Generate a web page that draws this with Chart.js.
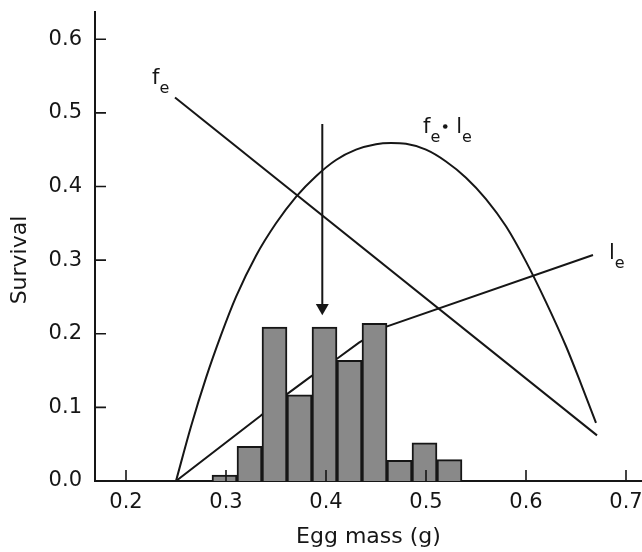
<!DOCTYPE html>
<html>
<head>
<meta charset="utf-8">
<title>Survival vs egg mass</title>
<script src="https://cdn.jsdelivr.net/npm/chart.js@4.4.1/dist/chart.umd.min.js"></script>
<style>
  html, body { margin: 0; padding: 0; background: #fff; }
  #chart { display: block; }
</style>
</head>
<body>
<canvas id="chart" width="642" height="552"></canvas>
<script>
// histogram of egg masses (bin centres, bins 0.025 g wide)
const binCenters = [0.2985, 0.3235, 0.3485, 0.3735, 0.3985, 0.4235, 0.4485, 0.4735, 0.4985, 0.5235];
const binHeights = [0.008, 0.047, 0.209, 0.117, 0.209, 0.164, 0.214, 0.028, 0.052, 0.029];

// f_e (straight line)
const feX = [0.249, 0.671];
const feY = [0.521, 0.062];

// l_e (bends behind the histogram)
const leX = [0.25, 0.334, 0.361, 0.384, 0.411, 0.433, 0.459, 0.667];
const leY = [0, 0.088, 0.118, 0.141, 0.166, 0.188, 0.209, 0.307];

// f_e . l_e curve
const prodX = [0.25, 0.265, 0.28, 0.295, 0.31, 0.33, 0.35, 0.37, 0.39, 0.41, 0.43, 0.45, 0.465,
               0.48, 0.50, 0.52, 0.54, 0.56, 0.58, 0.60, 0.62, 0.64, 0.655, 0.67];
const prodY = [0, 0.074, 0.140, 0.198, 0.250, 0.306, 0.350, 0.386, 0.414, 0.436, 0.450, 0.4575, 0.459,
               0.458, 0.450, 0.434, 0.412, 0.383, 0.346, 0.298, 0.243, 0.183, 0.132, 0.079];

// arrow marking the optimum
const arrowX = [0.3963, 0.3963];
const arrowY = [0.485, 0.2354];

const xTicks = [0.2, 0.3, 0.4, 0.5, 0.6, 0.7];
const yTicks = [0, 0.1, 0.2, 0.3, 0.4, 0.5, 0.6];

const ink = '#161616';
const FONT = '"DejaVu Sans", sans-serif';

const toPoints = (xs, ys) => xs.map((x, i) => ({ x, y: ys[i] }));

// draws "f", "e" etc. with subscripts, baseline at py
function drawLabel(ctx, px, py, parts) {
    let cx = px;
    parts.forEach(p => {
        if (p === '•') {
            ctx.beginPath();
            ctx.arc(cx + 5, py - 7, 2.3, 0, Math.PI * 2);
            ctx.fill();
            cx += 16;
            return;
        }
        const sub = p.startsWith('_');
        const t = sub ? p.slice(1) : p;
        ctx.font = (sub ? '16px ' : '21px ') + FONT;
        ctx.fillText(t, cx, sub ? py + 9 : py);
        cx += ctx.measureText(t).width;
    });
}

const decorations = {
    id: 'decorations',
    afterDatasetsDraw(chart) {
        const { ctx, scales: { x, y } } = chart;
        ctx.save();
        // inward tick marks
        ctx.strokeStyle = ink;
        ctx.lineWidth = 1.6;
        ctx.beginPath();
        yTicks.forEach(v => {
            const py = y.getPixelForValue(v);
            ctx.moveTo(x.left, py);
            ctx.lineTo(x.left + 11, py);
        });
        xTicks.forEach(v => {
            const px = x.getPixelForValue(v);
            ctx.moveTo(px, y.bottom);
            ctx.lineTo(px, y.bottom - 11);
        });
        ctx.stroke();

        // curve labels
        ctx.fillStyle = ink;
        ctx.textAlign = 'left';
        ctx.textBaseline = 'alphabetic';
        drawLabel(ctx, x.getPixelForValue(0.226), y.getPixelForValue(0.539), ['f', '_e']);
        drawLabel(ctx, x.getPixelForValue(0.497), y.getPixelForValue(0.472), ['f', '_e', '•', 'l', '_e']);
        drawLabel(ctx, x.getPixelForValue(0.683), y.getPixelForValue(0.301), ['l', '_e']);

        // y axis title
        ctx.font = '22px ' + FONT;
        ctx.textAlign = 'center';
        ctx.textBaseline = 'middle';
        ctx.translate(20, 260);
        ctx.rotate(-Math.PI / 2);
        ctx.fillText('Survival', 0, 0);
        ctx.restore();
    },
};

const lineStyle = {
    type: 'line',
    borderColor: ink,
    borderWidth: 2,
    pointRadius: 0,
    fill: false,
    order: 1,
};

new Chart(document.getElementById('chart'), {
    type: 'bar',
    data: {
        datasets: [
            {
                label: 'Egg mass frequency',
                data: toPoints(binCenters, binHeights),
                backgroundColor: '#898989',
                borderColor: ink,
                borderWidth: 2,
                barPercentage: 1,
                categoryPercentage: 1,
                grouped: false,
                order: 0,
            },
            { ...lineStyle, label: 'fe', data: toPoints(feX, feY) },
            { ...lineStyle, label: 'le', data: toPoints(leX, leY) },
            {
                ...lineStyle,
                label: 'fe·le',
                data: toPoints(prodX, prodY),
                cubicInterpolationMode: 'monotone',
            },
            {
                ...lineStyle,
                label: 'optimum',
                data: toPoints(arrowX, arrowY),
                pointRadius: [0, 7.5],
                pointStyle: 'triangle',
                rotation: 180,
                pointBackgroundColor: ink,
                pointBorderWidth: 0,
                borderWidth: 2,
            },
        ],
    },
    options: {
        responsive: false,
        animation: false,
        layout: { autoPadding: false, padding: { top: 12, right: 0, left: 0, bottom: 0 } },
        plugins: {
            legend: { display: false },
            tooltip: { enabled: false },
        },
        scales: {
            x: {
                type: 'linear',
                offset: false,
                min: 0.169,
                max: 0.716,
                afterBuildTicks: s => { s.ticks = xTicks.map(v => ({ value: v })); },
                afterFit: s => { s.height = 71; s.paddingLeft = 0; s.paddingRight = 0; },
                grid: { display: false, drawTicks: false, offset: false },
                border: { color: ink, width: 2 },
                ticks: {
                    color: ink,
                    padding: 9,
                    maxRotation: 0,
                    font: { family: FONT, size: 21 },
                    callback: v => v.toFixed(1),
                },
                title: {
                    display: true,
                    text: 'Egg mass (g)',
                    color: ink,
                    font: { family: FONT, size: 22 },
                    padding: { top: 0, bottom: 2 },
                },
            },
            y: {
                min: 0,
                max: 0.637,
                afterBuildTicks: s => { s.ticks = yTicks.map(v => ({ value: v })); },
                afterFit: s => { s.width = 95; s.paddingTop = 0; s.paddingBottom = 0; },
                grid: { display: false, drawTicks: false },
                border: { color: ink, width: 2 },
                ticks: {
                    color: ink,
                    padding: 13,
                    font: { family: FONT, size: 21 },
                    callback: v => v.toFixed(1),
                },
            },
        },
    },
    plugins: [decorations],
});
</script>
</body>
</html>
